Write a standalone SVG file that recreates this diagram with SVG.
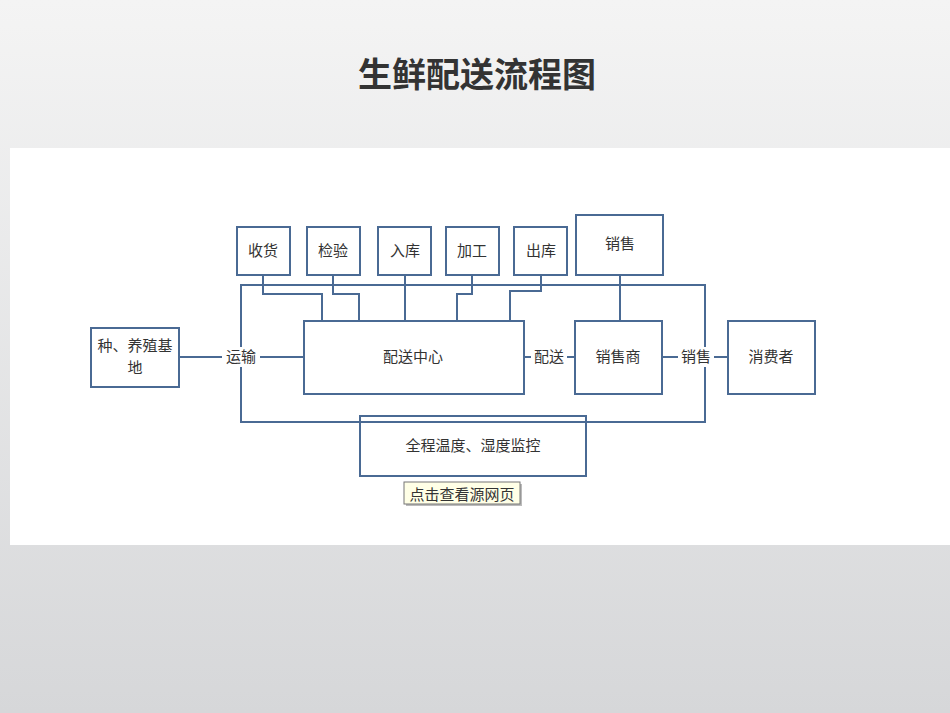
<svg xmlns="http://www.w3.org/2000/svg" width="950" height="713" viewBox="0 0 950 713">
<defs>
<linearGradient id="bg" x1="0" y1="0" x2="0" y2="1"><stop offset="0" stop-color="#f4f4f4"/><stop offset="1" stop-color="#d6d7d9"/></linearGradient>
<style>
.b{fill:#fff;stroke:#4a6a94;stroke-width:2}
.l{fill:none;stroke:#4a6a94;stroke-width:2}
.t{font-family:"Liberation Serif","Noto Sans CJK SC",serif;font-size:15px;fill:#333;text-anchor:middle;dominant-baseline:central}
</style>
</defs>
<rect width="950" height="713" fill="url(#bg)"/>
<text x="477" y="72" font-family="'Noto Sans CJK SC',sans-serif" font-weight="bold" font-size="34" fill="#333" text-anchor="middle" dominant-baseline="central">生鲜配送流程图</text>
<rect x="10" y="148" width="940" height="397" fill="#fff"/>
<g id="connectors">
<path class="l" d="M241 285H705V422H241Z"/>
<path class="l" d="M179 357H304M524 357H575M662 357H728"/>
<path class="l" d="M263 275V294H322V321M333 275V294H359V321M405 275V321M472 275V294H457V321M541 275V291H510V321M620 275V321"/>
</g>
<rect x="222" y="347" width="38" height="20" fill="#fff"/>
<text class="t" x="241" y="357">运输</text>
<rect x="531" y="347" width="36" height="20" fill="#fff"/>
<text class="t" x="549" y="357">配送</text>
<rect x="678" y="347" width="36" height="20" fill="#fff"/>
<text class="t" x="696" y="357">销售</text>
<g id="farm"><rect class="b" x="91" y="328" width="88" height="59"/><text class="t" x="135" y="346">种、养殖基</text><text class="t" x="135" y="368">地</text></g>
<g id="shouhuo"><rect class="b" x="237" y="227" width="53" height="48"/><text class="t" x="263" y="251">收货</text></g>
<g id="jianyan"><rect class="b" x="307" y="227" width="53" height="48"/><text class="t" x="333" y="251">检验</text></g>
<g id="ruku"><rect class="b" x="378" y="227" width="53" height="48"/><text class="t" x="405" y="251">入库</text></g>
<g id="jiagong"><rect class="b" x="446" y="227" width="53" height="48"/><text class="t" x="472" y="251">加工</text></g>
<g id="chuku"><rect class="b" x="514" y="227" width="53" height="48"/><text class="t" x="541" y="251">出库</text></g>
<g id="xiaoshou"><rect class="b" x="576" y="215" width="87" height="60"/><text class="t" x="620" y="244">销售</text></g>
<g id="center"><rect class="b" x="304" y="321" width="220" height="73"/><text class="t" x="413" y="357">配送中心</text></g>
<g id="seller"><rect class="b" x="575" y="321" width="87" height="73"/><text class="t" x="618" y="357">销售商</text></g>
<g id="consumer"><rect class="b" x="728" y="321" width="87" height="73"/><text class="t" x="771" y="357">消费者</text></g>
<g id="monitor"><rect class="l" x="360" y="416" width="226" height="60"/><text class="t" x="473" y="446">全程温度、湿度监控</text></g>
<g id="tip"><rect x="406" y="484" width="116" height="22" fill="#bbb"/><rect x="404" y="482" width="116" height="22" fill="#ffffe6" stroke="#777"/><text x="462" y="493" font-family="'Noto Sans CJK SC',sans-serif" font-size="15" fill="#333" text-anchor="middle" dominant-baseline="central">点击查看源网页</text></g>
</svg>
